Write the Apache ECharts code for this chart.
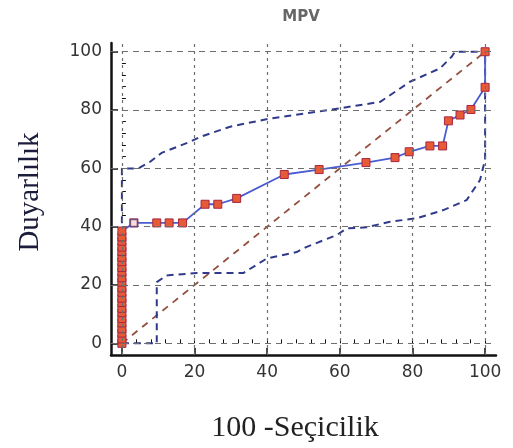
<!DOCTYPE html>
<html>
<head>
<meta charset="utf-8">
<script src="https://cdn.jsdelivr.net/npm/echarts@6/dist/echarts.min.js"></script>
<style>
  html, body { margin: 0; padding: 0; background: #fff; }
  #chart { width: 513px; height: 448px; }
</style>
</head>
<body>
<div id="chart"></div>
<script>
// ROC curve for MPV: 100 - specificity (x) vs sensitivity (y)
const rocX = [0, 0, 0, 0, 0, 0, 0, 0, 0, 0, 0, 0, 0, 0, 0, 0, 0, 0, 0, 0, 0, 0, 0,
  3.3, 9.6, 13.0, 16.7, 22.9, 26.4, 31.6, 44.7, 54.3, 67.2, 75.2, 79.1, 84.8, 88.3,
  89.9, 93.1, 96.1, 100, 100];
const rocY = [0, 1.5, 3.5, 5, 7, 8.5, 10.5, 12, 14, 15.5, 17.5, 19, 21, 22.5, 24.5,
  26, 28, 29.5, 31.5, 33, 35, 36.5, 38.5,
  41.3, 41.3, 41.3, 41.3, 47.7, 47.7, 49.7, 57.9, 59.6, 62.0, 63.7, 65.7, 67.7, 67.7,
  76.3, 78.3, 80.2, 87.8, 100];

// optimal criterion point
const cutX = [3.3];
const cutY = [41.3];

// 95% confidence bands
const upperX = [0, 0, 4.5, 7.7, 10.9, 18.7, 21.5, 29.8, 40.8, 50.9, 60.0, 71.1, 79.3, 87.6, 90.8, 91.7, 100];
const upperY = [0, 60, 60, 62.2, 65.3, 69.1, 70.8, 74.3, 77.1, 78.9, 80.6, 82.8, 89.7, 94.3, 98.3, 100, 100];
const lowerX = [0, 9.6, 9.6, 12.3, 20.6, 33.4, 39.9, 48.1, 50.9, 59.1, 61.9, 67.4, 73.8, 81.2, 88.5, 94.9, 98.6, 100, 100];
const lowerY = [0, 0, 21, 23.3, 24.1, 24.1, 29.1, 31.3, 33.1, 37.1, 39.4, 39.8, 41.7, 42.9, 45.7, 49.1, 56.0, 63.0, 100];

// reference diagonal
const diagX = [0, 100];
const diagY = [0, 100];

// axis ticks
const xTicks = [0, 20, 40, 60, 80, 100];
const yTicks = [0, 20, 40, 60, 80, 100];
const minorTicks = [0, 4, 8, 12, 16, 20, 24, 28, 32, 36, 40, 44, 48, 52, 56, 60,
  64, 68, 72, 76, 80, 84, 88, 92, 96, 100];

const title = 'MPV';
const xName = '100 -Seçicilik';
const yName = 'Duyarlılık';

const zip = (xs, ys) => xs.map((x, i) => [x, ys[i]]);

const tickFont = { fontFamily: 'DejaVu Sans', fontSize: 17, color: '#333' };

function mainAxis(ticks, extra) {
  return Object.assign({
    type: 'value',
    axisLine: { show: true, onZero: false, lineStyle: { color: '#111', width: 2.5 } },
    axisTick: { show: true, inside: true, length: 7, customValues: ticks,
      lineStyle: { color: '#111', width: 1.5 } },
    axisLabel: Object.assign({ show: true, customValues: ticks, margin: 9 }, tickFont),
    splitLine: { show: false }
  }, extra);
}
function minorAxis(extra) {
  return Object.assign({
    type: 'value',
    axisLine: { show: false },
    axisTick: { show: true, inside: true, length: 4, customValues: minorTicks,
      lineStyle: { color: '#111', width: 1 } },
    axisLabel: { show: false },
    splitLine: { show: false }
  }, extra);
}

const gridLineData = []
  .concat(xTicks.map(v => ({ xAxis: v, lineStyle: { type: [3, 4] } })))
  .concat(yTicks.map(v => ({ yAxis: v, lineStyle: { type: [6, 5] } })));

const chart = echarts.init(document.getElementById('chart'), null, { renderer: 'canvas' });
chart.setOption({
  animation: false,
  backgroundColor: '#fff',
  grid: { left: 111, right: 17, top: 43, bottom: 93, containLabel: false },
  xAxis: [
    mainAxis(xTicks, { min: -3, max: 103, position: 'bottom' }),
    minorAxis({ min: -3, max: 103, position: 'bottom' })
  ],
  yAxis: [
    mainAxis(yTicks, { min: -4, max: 103, position: 'left' }),
    minorAxis({ min: -4, max: 103, position: 'left' })
  ],
  graphic: [
    { type: 'text', x: 301, y: 17, z: 10,
      style: { text: title, fontFamily: 'DejaVu Sans', fontSize: 15, fontWeight: 'bold',
        fill: '#666', align: 'center', verticalAlign: 'middle' } },
    { type: 'text', x: 295, y: 428, z: 10,
      style: { text: xName, fontFamily: 'Liberation Serif', fontSize: 30, fill: '#222',
        align: 'center', verticalAlign: 'middle' } },
    { type: 'text', x: 30, y: 192, rotation: Math.PI / 2, z: 10,
      style: { text: yName, fontFamily: 'Liberation Serif', fontSize: 29, fill: '#1c1c3c',
        align: 'center', verticalAlign: 'middle' } }
  ],
  series: [
    {
      name: 'grid', type: 'line', data: [], z: 0, silent: true,
      markLine: {
        silent: true, symbol: 'none', label: { show: false }, animation: false,
        lineStyle: { color: '#6e6e6e', width: 1.2 },
        data: gridLineData
      }
    },
    {
      name: 'diagonal', type: 'line', data: zip(diagX, diagY), z: 2, symbol: 'none',
      lineStyle: { color: '#94503f', width: 1.8, type: [7, 6] }
    },
    {
      name: 'upper', type: 'line', data: zip(upperX, upperY), z: 3, symbol: 'none',
      lineStyle: { color: '#303a8a', width: 2, type: [7, 5] }
    },
    {
      name: 'lower', type: 'line', data: zip(lowerX, lowerY), z: 3, symbol: 'none',
      lineStyle: { color: '#303a8a', width: 2, type: [7, 5] }
    },
    {
      name: 'roc', type: 'line', data: zip(rocX, rocY), z: 4,
      symbol: 'rect', symbolSize: 8, showAllSymbol: true,
      lineStyle: { color: '#4a5cd2', width: 1.8 },
      itemStyle: { color: '#e65a36', borderColor: '#a82640', borderWidth: 1 }
    },
    {
      name: 'criterion', type: 'scatter', data: zip(cutX, cutY), z: 5,
      symbol: 'rect', symbolSize: 7,
      itemStyle: { color: '#fff', borderColor: '#5a3a7a', borderWidth: 1.5 }
    }
  ]
});
</script>
</body>
</html>
